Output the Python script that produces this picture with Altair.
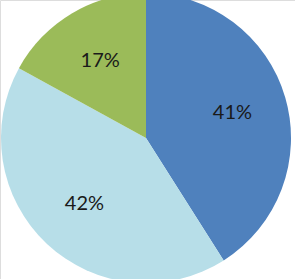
import altair as alt
import pandas as pd

labels = ["41%", "42%", "17%"]
values = [41, 42, 17]
order = [1, 2, 3]
colors = ["#4F81BD", "#B7DEE8", "#9BBB59"]

df = pd.DataFrame({"label": labels, "value": values, "order": order})

base = alt.Chart(df).encode(
    theta=alt.Theta("value:Q", stack=True),
    order=alt.Order("order:Q"),
)

pie = base.mark_arc(radius=145).encode(
    x=alt.value(146),
    y=alt.value(138),
    color=alt.Color("label:N", scale=alt.Scale(domain=labels, range=colors), legend=None),
)

text = base.mark_text(radius=90, font="Lato", fontSize=20, color="#1a1a1a").encode(
    x=alt.value(146),
    y=alt.value(138),
    text="label:N",
)

chart = (pie + text).properties(
    width=295, height=279, padding=0, autosize=alt.AutoSizeParams(type="none")
).configure_view(stroke=None).configure(background="white")

chart.save("out.html", embed_options={"renderer": "svg", "actions": False})
